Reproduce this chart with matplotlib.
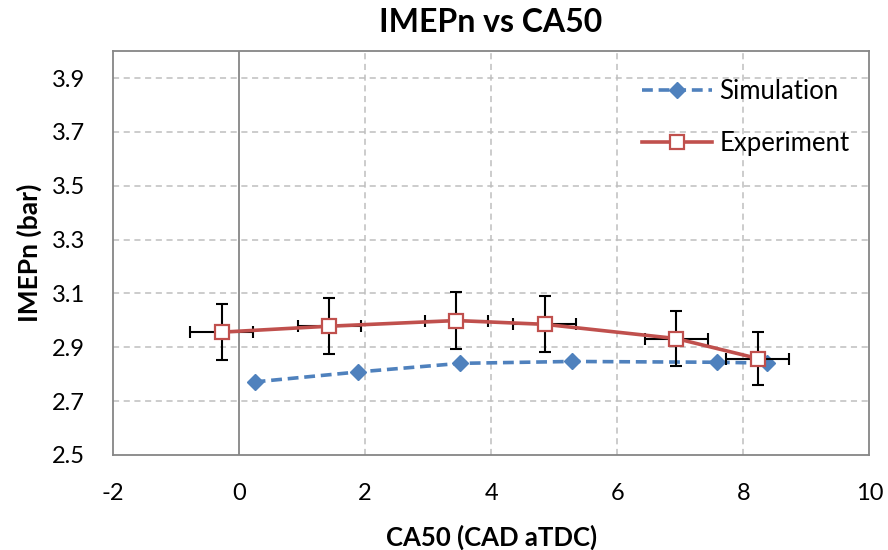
import matplotlib.pyplot as plt
from matplotlib.ticker import MultipleLocator, FormatStrFormatter

plt.rcParams['font.family'] = ['Lato', 'DejaVu Sans']
plt.rcParams['axes.unicode_minus'] = False

# CA50 (CAD aTDC) e IMEPn (bar)
ca50_sim = [0.25, 1.89, 3.51, 5.28, 7.59, 8.38]
imep_sim = [2.771, 2.808, 2.840, 2.847, 2.844, 2.841]

ca50_exp = [-0.27, 1.43, 3.45, 4.85, 6.94, 8.23]
imep_exp = [2.956, 2.978, 2.999, 2.985, 2.932, 2.858]
erro_ca50 = [0.5, 0.5, 0.5, 0.5, 0.5, 0.5]
erro_imep = [0.103, 0.104, 0.105, 0.104, 0.102, 0.100]

azul = '#4F81BD'
vermelho = '#C0504D'
cinza = '#868686'

fig = plt.figure(figsize=(8.88, 5.5), dpi=100)
ax = fig.add_axes([0.127, 0.173, 0.852, 0.734])

ax.plot(ca50_sim, imep_sim, color=azul, linestyle=(0, (3, 1.6)), linewidth=2.6,
        marker='D', markersize=8.5, markerfacecolor=azul, markeredgecolor=azul,
        label='Simulation', zorder=3)

ax.errorbar(ca50_exp, imep_exp, xerr=erro_ca50, yerr=erro_imep, fmt='none',
            ecolor='black', elinewidth=1.5, capsize=4, capthick=1.5, zorder=4)

ax.plot(ca50_exp, imep_exp, color=vermelho, linestyle='-', linewidth=2.6,
        marker='s', markersize=10, markerfacecolor='white',
        markeredgecolor=vermelho, markeredgewidth=1.6,
        label='Experiment', zorder=5)

ax.set_xlim(-2, 10)
ax.set_ylim(2.5, 4.0)
ax.xaxis.set_major_locator(MultipleLocator(2))
ax.set_yticks([2.5, 2.7, 2.9, 3.1, 3.3, 3.5, 3.7, 3.9])
ax.yaxis.set_major_formatter(FormatStrFormatter('%.1f'))
ax.tick_params(length=0, labelsize=17, pad=20)

# grade tracejada, sem linha em x=0 (eixo vertical) nem nas bordas
for gx in [2, 4, 6, 8]:
    ax.axvline(gx, color='#BEBEBE', linestyle=(0, (4, 3)), linewidth=1.1, zorder=1)
for gy in [2.7, 2.9, 3.1, 3.3, 3.5, 3.7, 3.9]:
    ax.axhline(gy, color='#BEBEBE', linestyle=(0, (4, 3)), linewidth=1.1, zorder=1)
ax.axvline(0, color=cinza, linewidth=1.3, zorder=2)

for s in ax.spines.values():
    s.set_color(cinza)
    s.set_linewidth(1.3)

ax.set_title('IMEPn vs CA50', fontsize=23, fontweight='bold', pad=14)
ax.set_xlabel('CA50 (CAD aTDC)', fontsize=18.5, fontweight='bold', labelpad=15)
ax.set_ylabel('IMEPn (bar)', fontsize=19, fontweight='bold', labelpad=7)

ax.legend(loc='upper left', bbox_to_anchor=(0.70, 0.93), frameon=False,
          fontsize=18.5, handlelength=2.7, labelspacing=1.02, borderpad=0,
          borderaxespad=0, handletextpad=0.3)

plt.savefig('out.png', dpi=100)
